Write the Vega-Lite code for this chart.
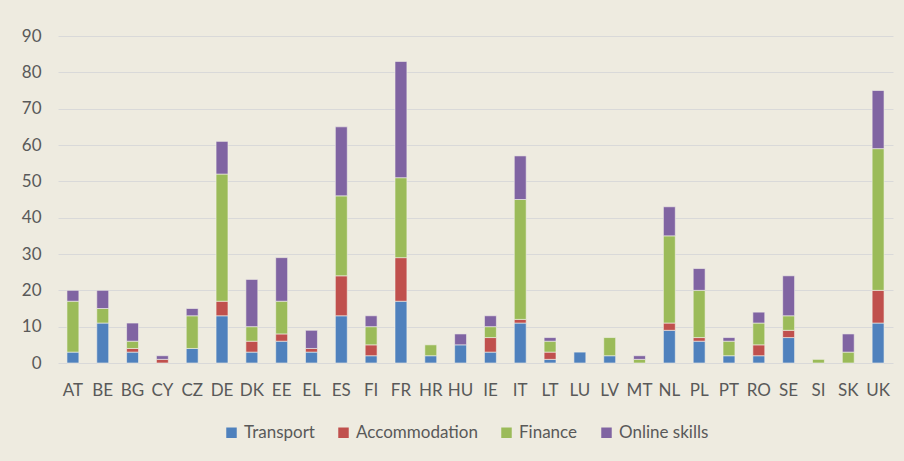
{
  "$schema": "https://vega.github.io/schema/vega-lite/v6.json",
  "autosize": "none",
  "width": 835,
  "height": 327,
  "padding": {"left": 58, "top": 36, "right": 11, "bottom": 98},
  "background": "#EEEBE0",
  "config": {
    "view": {"stroke": null},
    "font": "Lato",
    "axis": {"labelFont": "Lato", "labelColor": "#595959", "labelFontSize": 17}
  },
  "data": {
    "values": [
      {"c": "AT", "s": "Transport", "k": 1, "v": 3}, {"c": "AT", "s": "Finance", "k": 3, "v": 14}, {"c": "AT", "s": "Online skills", "k": 4, "v": 3},
      {"c": "BE", "s": "Transport", "k": 1, "v": 11}, {"c": "BE", "s": "Finance", "k": 3, "v": 4}, {"c": "BE", "s": "Online skills", "k": 4, "v": 5},
      {"c": "BG", "s": "Transport", "k": 1, "v": 3}, {"c": "BG", "s": "Accommodation", "k": 2, "v": 1}, {"c": "BG", "s": "Finance", "k": 3, "v": 2}, {"c": "BG", "s": "Online skills", "k": 4, "v": 5},
      {"c": "CY", "s": "Accommodation", "k": 2, "v": 1}, {"c": "CY", "s": "Online skills", "k": 4, "v": 1},
      {"c": "CZ", "s": "Transport", "k": 1, "v": 4}, {"c": "CZ", "s": "Finance", "k": 3, "v": 9}, {"c": "CZ", "s": "Online skills", "k": 4, "v": 2},
      {"c": "DE", "s": "Transport", "k": 1, "v": 13}, {"c": "DE", "s": "Accommodation", "k": 2, "v": 4}, {"c": "DE", "s": "Finance", "k": 3, "v": 35}, {"c": "DE", "s": "Online skills", "k": 4, "v": 9},
      {"c": "DK", "s": "Transport", "k": 1, "v": 3}, {"c": "DK", "s": "Accommodation", "k": 2, "v": 3}, {"c": "DK", "s": "Finance", "k": 3, "v": 4}, {"c": "DK", "s": "Online skills", "k": 4, "v": 13},
      {"c": "EE", "s": "Transport", "k": 1, "v": 6}, {"c": "EE", "s": "Accommodation", "k": 2, "v": 2}, {"c": "EE", "s": "Finance", "k": 3, "v": 9}, {"c": "EE", "s": "Online skills", "k": 4, "v": 12},
      {"c": "EL", "s": "Transport", "k": 1, "v": 3}, {"c": "EL", "s": "Accommodation", "k": 2, "v": 1}, {"c": "EL", "s": "Online skills", "k": 4, "v": 5},
      {"c": "ES", "s": "Transport", "k": 1, "v": 13}, {"c": "ES", "s": "Accommodation", "k": 2, "v": 11}, {"c": "ES", "s": "Finance", "k": 3, "v": 22}, {"c": "ES", "s": "Online skills", "k": 4, "v": 19},
      {"c": "FI", "s": "Transport", "k": 1, "v": 2}, {"c": "FI", "s": "Accommodation", "k": 2, "v": 3}, {"c": "FI", "s": "Finance", "k": 3, "v": 5}, {"c": "FI", "s": "Online skills", "k": 4, "v": 3},
      {"c": "FR", "s": "Transport", "k": 1, "v": 17}, {"c": "FR", "s": "Accommodation", "k": 2, "v": 12}, {"c": "FR", "s": "Finance", "k": 3, "v": 22}, {"c": "FR", "s": "Online skills", "k": 4, "v": 32},
      {"c": "HR", "s": "Transport", "k": 1, "v": 2}, {"c": "HR", "s": "Finance", "k": 3, "v": 3},
      {"c": "HU", "s": "Transport", "k": 1, "v": 5}, {"c": "HU", "s": "Online skills", "k": 4, "v": 3},
      {"c": "IE", "s": "Transport", "k": 1, "v": 3}, {"c": "IE", "s": "Accommodation", "k": 2, "v": 4}, {"c": "IE", "s": "Finance", "k": 3, "v": 3}, {"c": "IE", "s": "Online skills", "k": 4, "v": 3},
      {"c": "IT", "s": "Transport", "k": 1, "v": 11}, {"c": "IT", "s": "Accommodation", "k": 2, "v": 1}, {"c": "IT", "s": "Finance", "k": 3, "v": 33}, {"c": "IT", "s": "Online skills", "k": 4, "v": 12},
      {"c": "LT", "s": "Transport", "k": 1, "v": 1}, {"c": "LT", "s": "Accommodation", "k": 2, "v": 2}, {"c": "LT", "s": "Finance", "k": 3, "v": 3}, {"c": "LT", "s": "Online skills", "k": 4, "v": 1},
      {"c": "LU", "s": "Transport", "k": 1, "v": 3},
      {"c": "LV", "s": "Transport", "k": 1, "v": 2}, {"c": "LV", "s": "Finance", "k": 3, "v": 5},
      {"c": "MT", "s": "Finance", "k": 3, "v": 1}, {"c": "MT", "s": "Online skills", "k": 4, "v": 1},
      {"c": "NL", "s": "Transport", "k": 1, "v": 9}, {"c": "NL", "s": "Accommodation", "k": 2, "v": 2}, {"c": "NL", "s": "Finance", "k": 3, "v": 24}, {"c": "NL", "s": "Online skills", "k": 4, "v": 8},
      {"c": "PL", "s": "Transport", "k": 1, "v": 6}, {"c": "PL", "s": "Accommodation", "k": 2, "v": 1}, {"c": "PL", "s": "Finance", "k": 3, "v": 13}, {"c": "PL", "s": "Online skills", "k": 4, "v": 6},
      {"c": "PT", "s": "Transport", "k": 1, "v": 2}, {"c": "PT", "s": "Finance", "k": 3, "v": 4}, {"c": "PT", "s": "Online skills", "k": 4, "v": 1},
      {"c": "RO", "s": "Transport", "k": 1, "v": 2}, {"c": "RO", "s": "Accommodation", "k": 2, "v": 3}, {"c": "RO", "s": "Finance", "k": 3, "v": 6}, {"c": "RO", "s": "Online skills", "k": 4, "v": 3},
      {"c": "SE", "s": "Transport", "k": 1, "v": 7}, {"c": "SE", "s": "Accommodation", "k": 2, "v": 2}, {"c": "SE", "s": "Finance", "k": 3, "v": 4}, {"c": "SE", "s": "Online skills", "k": 4, "v": 11},
      {"c": "SI", "s": "Finance", "k": 3, "v": 1},
      {"c": "SK", "s": "Finance", "k": 3, "v": 3}, {"c": "SK", "s": "Online skills", "k": 4, "v": 5},
      {"c": "UK", "s": "Transport", "k": 1, "v": 11}, {"c": "UK", "s": "Accommodation", "k": 2, "v": 9}, {"c": "UK", "s": "Finance", "k": 3, "v": 39}, {"c": "UK", "s": "Online skills", "k": 4, "v": 16}
    ]
  },
  "mark": {"type": "bar", "stroke": "#F4F2EA", "strokeWidth": 0.6},
  "encoding": {
    "x": {
      "field": "c", "type": "nominal", "sort": null,
      "scale": {"paddingInner": 0.6, "paddingOuter": 0.3},
      "axis": {"title": null, "labelAngle": 0, "ticks": false, "domain": false, "labelPadding": 19}
    },
    "y": {
      "field": "v", "type": "quantitative", "stack": "zero",
      "scale": {"domain": [0, 90], "nice": false},
      "axis": {"title": null, "values": [0, 10, 20, 30, 40, 50, 60, 70, 80, 90], "ticks": false, "domain": false, "labelPadding": 17, "gridColor": "#D9D9D9", "gridWidth": 1.2}
    },
    "color": {
      "field": "s", "type": "nominal",
      "sort": ["Transport", "Accommodation", "Finance", "Online skills"],
      "scale": {"domain": ["Transport", "Accommodation", "Finance", "Online skills"], "range": ["#4F81BD", "#C0504D", "#9BBB59", "#8064A2"]},
      "legend": {"title": null, "orient": "none", "legendX": 165, "legendY": 388, "direction": "horizontal", "symbolType": "square", "symbolSize": 110, "symbolStrokeWidth": 0, "labelFont": "Lato", "labelFontSize": 17, "labelColor": "#595959", "columnPadding": 20, "labelOffset": 4}
    },
    "order": {"field": "k", "type": "quantitative", "sort": "ascending"}
  }
}
